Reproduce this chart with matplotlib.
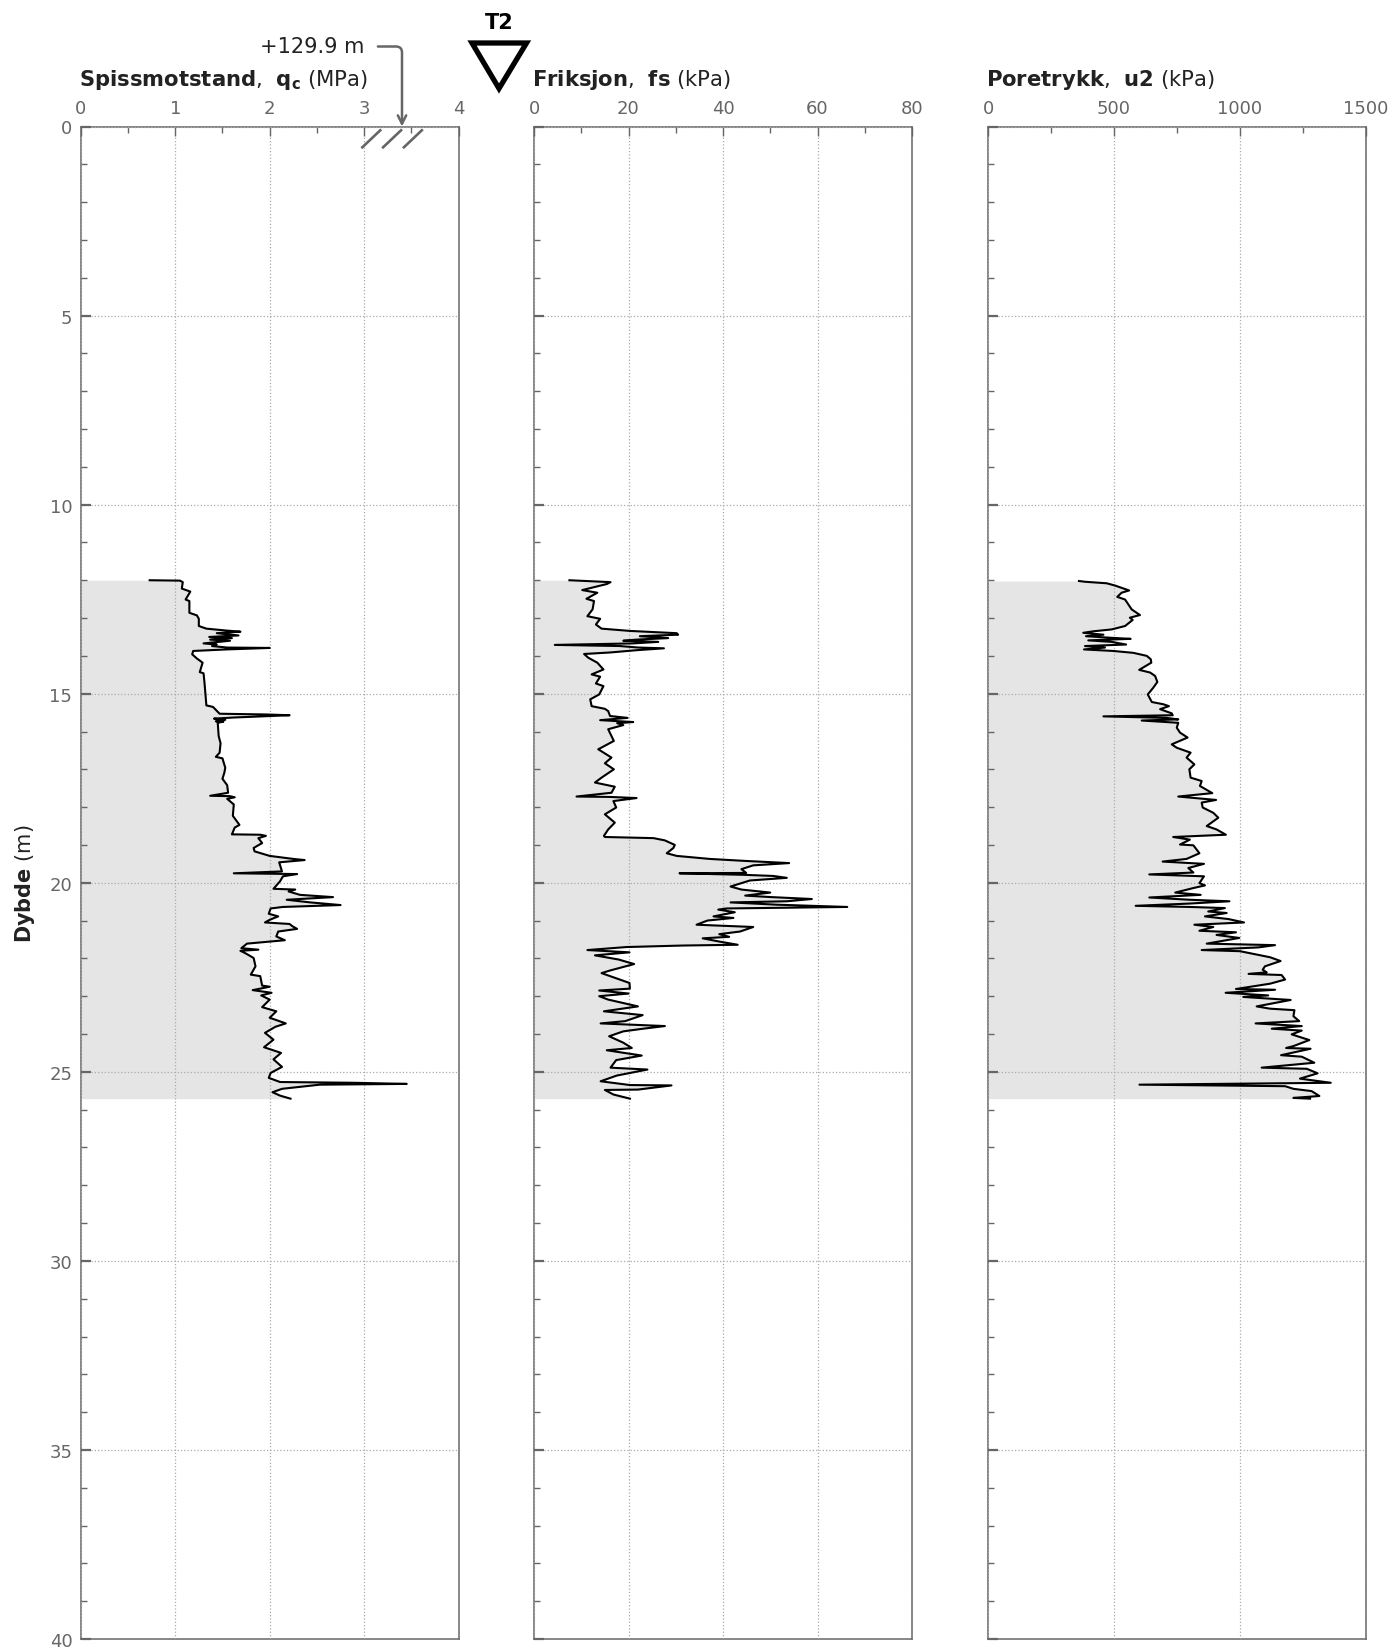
import matplotlib
matplotlib.use("Agg")
import matplotlib.pyplot as plt
from matplotlib.patches import Polygon
from matplotlib.ticker import MultipleLocator

# --- data: (depth m, value) ---
qc_depth = [12.0,12.01,12.05,12.22,12.30,12.51,12.55,12.86,12.93,13.02,13.21,13.28,13.33,13.36,13.40,13.46,13.50,13.53,13.57,13.60,13.67,13.70,13.74,13.78,13.79,13.83,13.87,13.96,14.07,14.18,14.43,14.46,14.71,15.0,15.31,15.35,15.53,15.55,15.57,15.63,15.66,15.69,15.73,15.74,15.77,16.12,16.31,16.56,16.67,16.71,16.96,17.09,17.25,17.42,17.62,17.70,17.71,17.74,17.78,17.93,18.23,18.47,18.54,18.72,18.73,18.76,18.82,18.95,19.08,19.17,19.29,19.37,19.40,19.46,19.70,19.75,19.77,19.83,19.96,20.16,20.18,20.23,20.32,20.38,20.45,20.52,20.59,20.64,20.68,20.82,20.89,20.98,21.05,21.09,21.15,21.22,21.29,21.42,21.52,21.58,21.61,21.73,21.77,21.80,21.86,21.99,22.21,22.43,22.47,22.72,22.75,22.84,22.91,22.98,23.09,23.29,23.40,23.57,23.72,23.81,23.97,24.15,24.35,24.50,24.67,24.87,25.03,25.16,25.27,25.29,25.32,25.34,25.45,25.54,25.63,25.71]
qc_values = [0.73,1.05,1.08,1.07,1.16,1.11,1.15,1.15,1.23,1.25,1.25,1.33,1.54,1.69,1.44,1.67,1.36,1.60,1.37,1.58,1.30,1.44,1.39,1.55,2.0,1.54,1.19,1.18,1.23,1.29,1.26,1.30,1.31,1.32,1.33,1.40,1.47,1.97,2.21,1.62,1.41,1.53,1.43,1.51,1.45,1.46,1.48,1.47,1.43,1.50,1.53,1.52,1.50,1.55,1.56,1.37,1.58,1.63,1.55,1.62,1.61,1.68,1.63,1.60,1.90,1.96,1.88,1.92,1.83,1.84,2.0,2.25,2.37,2.10,2.13,1.62,2.29,2.14,2.11,2.04,2.27,2.20,2.32,2.67,2.18,2.43,2.75,2.14,2.01,1.99,2.09,2.0,1.95,2.21,2.24,2.29,2.09,2.07,2.16,1.90,1.76,1.70,1.88,1.69,1.74,1.83,1.85,1.80,1.90,1.92,2.0,1.82,2.02,1.91,2.0,1.92,2.07,2.0,2.17,2.06,1.95,2.04,1.94,2.12,2.04,2.13,2.01,1.99,2.11,2.89,3.45,2.53,2.13,2.03,2.11,2.22]

fs_depth = [12.0,12.05,12.10,12.26,12.33,12.49,12.55,12.77,12.95,13.02,13.17,13.28,13.34,13.40,13.44,13.48,13.53,13.57,13.60,13.63,13.67,13.71,13.74,13.78,13.80,13.85,13.91,13.95,14.05,14.18,14.36,14.49,14.55,14.73,14.80,15.02,15.15,15.33,15.40,15.46,15.59,15.64,15.70,15.75,15.78,15.83,15.94,16.25,16.47,16.69,16.84,17.0,17.22,17.35,17.46,17.62,17.72,17.73,17.76,17.84,18.01,18.19,18.41,18.59,18.76,18.79,18.82,18.88,19.0,19.08,19.22,19.29,19.37,19.42,19.48,19.54,19.64,19.74,19.75,19.79,19.82,19.87,19.94,20.10,20.18,20.26,20.34,20.38,20.43,20.49,20.52,20.58,20.64,20.68,20.71,20.78,20.89,20.93,21.0,21.11,21.17,21.29,21.36,21.43,21.47,21.55,21.64,21.66,21.70,21.78,21.84,21.92,22.03,22.15,22.32,22.39,22.47,22.65,22.80,22.85,22.93,23.0,23.09,23.27,23.40,23.50,23.66,23.72,23.79,23.86,23.93,24.06,24.23,24.37,24.43,24.57,24.69,24.89,24.94,25.10,25.25,25.35,25.36,25.47,25.48,25.60,25.71]
fs_values = [7.5,16.2,15.4,10.2,13.4,11.1,12.7,12.4,11.3,14.0,13.1,14.3,20.3,30.2,30.5,22.4,28.4,21.7,18.9,26.3,21.0,4.4,18.2,22.1,27.5,21.7,16.1,10.6,11.5,13.4,14.7,12.2,14.0,13.1,14.7,13.8,11.9,12.2,15.0,15.7,16.1,19.8,14.0,21.0,17.6,18.9,15.7,16.9,13.6,16.4,15.0,16.9,14.3,12.9,17.1,16.4,9.0,16.0,21.7,16.8,17.4,15.0,17.1,15.7,14.8,15.0,25.3,27.7,29.8,29.5,28.1,30.2,37.2,44.3,54.0,46.4,43.9,44.9,30.8,44.3,50.6,53.5,45.7,41.6,43.9,50.0,44.7,50.3,58.8,53.5,41.6,51.4,66.3,40.8,39.0,42.5,38.0,42.2,36.7,34.4,46.4,43.6,39.2,41.3,35.7,39.0,43.1,31.6,19.6,11.3,20.2,12.9,17.9,21.2,16.1,14.3,16.1,20.2,20.3,13.8,20.0,13.8,15.7,22.0,14.8,23.0,19.3,14.1,27.7,23.1,18.9,15.9,18.9,20.7,15.4,22.8,17.4,16.2,24.0,17.5,14.1,20.3,29.1,22.0,15.0,16.8,20.3]

u2_depth = [12.02,12.04,12.08,12.14,12.27,12.33,12.44,12.51,12.77,12.92,12.99,13.05,13.21,13.30,13.35,13.39,13.44,13.48,13.52,13.55,13.59,13.63,13.70,13.74,13.78,13.83,13.87,13.92,14.0,14.09,14.18,14.37,14.44,14.53,14.69,14.84,15.02,15.22,15.28,15.33,15.41,15.52,15.57,15.60,15.64,15.68,15.71,15.77,15.90,16.03,16.16,16.34,16.43,16.56,16.69,16.87,17.0,17.22,17.31,17.44,17.63,17.72,17.81,17.88,18.01,18.15,18.28,18.50,18.59,18.73,18.79,18.86,18.99,19.01,19.22,19.37,19.44,19.50,19.61,19.73,19.78,19.83,20.01,20.07,20.14,20.26,20.32,20.39,20.45,20.49,20.55,20.61,20.64,20.67,20.76,20.80,20.89,20.96,21.05,21.11,21.17,21.27,21.31,21.38,21.46,21.55,21.61,21.65,21.71,21.78,21.81,21.88,21.97,22.07,22.21,22.30,22.37,22.41,22.44,22.56,22.67,22.81,22.83,22.91,22.98,23.02,23.10,23.27,23.33,23.37,23.53,23.66,23.72,23.79,23.86,23.91,24.01,24.16,24.32,24.37,24.39,24.56,24.60,24.76,24.89,24.92,25.04,25.18,25.29,25.34,25.38,25.45,25.51,25.64,25.69,25.71]
u2_values = [361,385,471,504,560,530,513,544,570,603,563,574,544,491,418,378,458,389,484,566,398,491,548,385,464,381,497,577,630,646,648,600,643,663,672,656,634,650,696,718,683,729,733,458,709,755,610,755,749,762,792,729,749,804,788,819,799,804,848,841,890,755,905,848,852,894,914,868,907,944,735,801,762,815,839,788,693,857,795,815,640,857,839,861,815,743,844,640,801,958,801,586,801,940,874,947,861,954,1016,819,894,839,984,907,997,921,868,1139,1073,848,1000,1053,1119,1161,1099,1090,1106,1034,1165,1179,1119,984,1139,943,1112,1013,1201,1066,1119,1216,1212,1235,1062,1245,1126,1245,1205,1275,1212,1183,1280,1163,1245,1295,1086,1265,1308,1238,1360,601,1179,1212,1284,1315,1212,1278]

depth_limits = [0, 40]
depth_ticks = [0, 5, 10, 15, 20, 25, 30, 35, 40]
qc_ticks = [0, 1, 2, 3, 4]
fs_ticks = [0, 20, 40, 60, 80]
u2_ticks = [0, 500, 1000, 1500]
titles = [r"$\mathbf{Spissmotstand}$,$\ \ $$\mathbf{q_c}$ (MPa)",
          r"$\mathbf{Friksjon}$,$\ \ $$\mathbf{fs}$ (kPa)",
          r"$\mathbf{Poretrykk}$,$\ \ $$\mathbf{u2}$ (kPa)"]
elevation_label = "+129.9 m"
borehole_label = "T2"

W, H = 1392, 1649
plt.rcParams["mathtext.fontset"] = "dejavusans"
fig = plt.figure(figsize=(W / 100, H / 100), dpi=100)
GREY = "#666666"
TOP, BOTTOM = 127.5, 1640
lefts = [(80.7, 458.7), (534, 912), (988, 1366)]
series = [(qc_depth, qc_values, qc_ticks), (fs_depth, fs_values, fs_ticks), (u2_depth, u2_values, u2_ticks)]
axes = []
for i, ((l, r), (d, v, xt)) in enumerate(zip(lefts, series)):
    ax = fig.add_axes([l / W, 1 - BOTTOM / H, (r - l) / W, (BOTTOM - TOP) / H])
    axes.append(ax)
    ax.fill_betweenx(d, 0, v, color="#e5e5e5", lw=0, zorder=1)
    ax.plot(v, d, color="black", lw=1.5, zorder=4, solid_joinstyle="round")
    ax.set_xlim(xt[0], xt[-1])
    ax.set_ylim(depth_limits[1], depth_limits[0])
    ax.xaxis.tick_top()
    ax.set_xticks(xt)
    ax.xaxis.set_minor_locator(MultipleLocator((xt[1] - xt[0]) / 2))
    ax.set_yticks(depth_ticks)
    ax.yaxis.set_minor_locator(MultipleLocator(1))
    ax.set_axisbelow(False)
    ax.grid(which="major", ls=":", color="#aaaaaa", lw=0.9)
    ax.tick_params(axis="x", which="major", direction="in", length=6.5, width=1, color=GREY,
                   labelcolor=GREY, labelsize=13, pad=7)
    ax.tick_params(axis="x", which="minor", direction="in", length=4, width=1, color=GREY)
    ax.tick_params(axis="y", which="major", direction="in", length=7, width=1.6, color=GREY,
                   labelcolor=GREY, labelsize=13, pad=6, labelleft=(i == 0))
    ax.tick_params(axis="y", which="minor", direction="in", length=4, width=1, color=GREY)
    for s in ax.spines.values():
        s.set_color(GREY)
        s.set_linewidth(1.1)
    ax.set_title(titles[i], loc="left", y=1.0, x=-0.005, pad=30, fontsize=15.2, color="#222222")

axes[0].set_ylabel(r"$\mathbf{Dybde}$ (m)", fontsize=15, color="#222222", labelpad=9)

# elevation marker with hatch strokes at the surface
ax0 = axes[0]
for x0 in [2.98, 3.20, 3.42]:
    ax0.plot([x0, x0 + 0.19], [0.55, 0.1], color=GREY, lw=1.9, zorder=5, clip_on=False)
ax0.annotate(elevation_label, xy=(3.40, 0), xycoords="data",
             xytext=(364, H - 47.5), textcoords="figure pixels",
             fontsize=15, color="#222222", ha="right", va="center",
             arrowprops=dict(arrowstyle="->", color=GREY, lw=1.8, mutation_scale=15,
                             shrinkA=8, shrinkB=0,
                             connectionstyle="angle,angleA=0,angleB=90,rad=6"))

# borehole symbol
tri = [(472, 44), (526.5, 44), (499, 89.5)]
fig.add_artist(Polygon([(x / W, 1 - y / H) for x, y in tri], closed=True, fill=False,
                       edgecolor="black", lw=3.8, joinstyle="miter", transform=fig.transFigure))
fig.text(499.5 / W, 1 - 23 / H, borehole_label, fontsize=15, fontweight="bold", ha="center", va="center")

fig.savefig("out.png", dpi=100)
